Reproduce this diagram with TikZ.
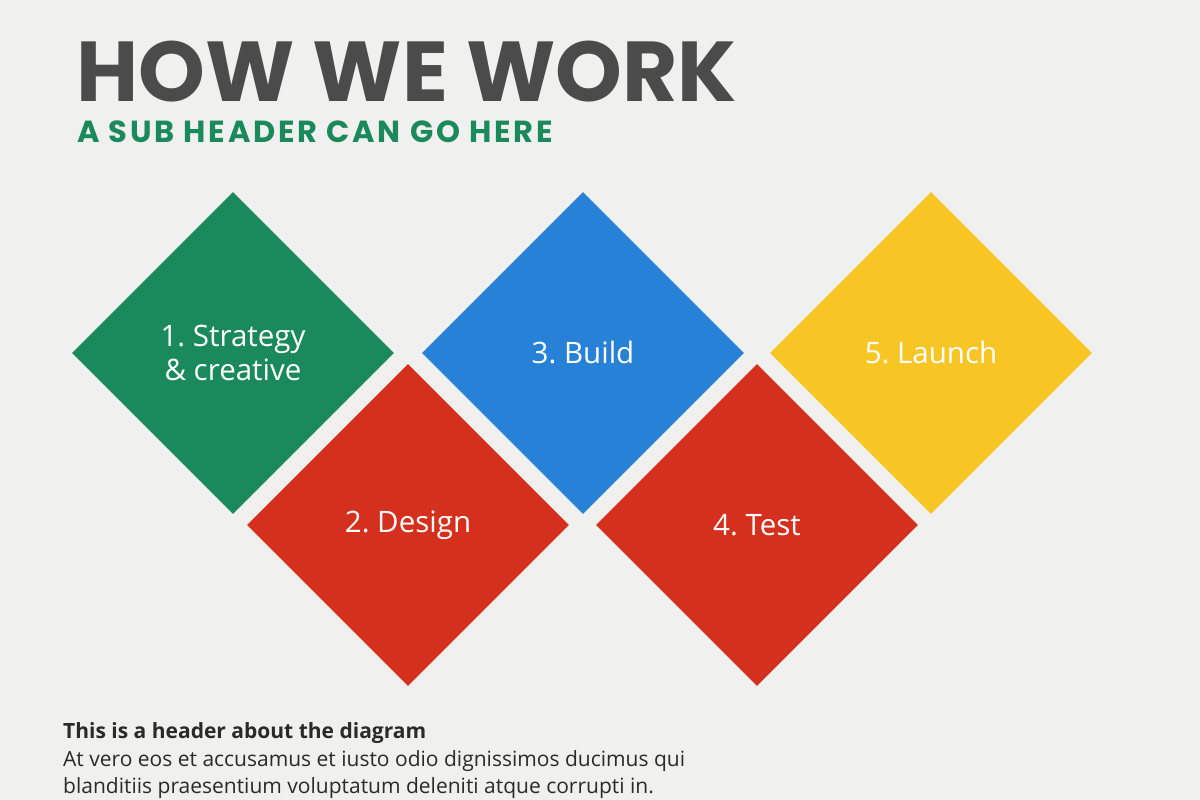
\documentclass[tikz,border=0pt]{standalone}
\usepackage{fontspec}
\setmainfont{Open Sans}
\newfontfamily\titlefont{Poppins}[UprightFont=* Bold, BoldFont=* Bold]
\newfontfamily\subfont{Poppins}[UprightFont=* Bold, BoldFont=* Bold, LetterSpace=9]
\usetikzlibrary{shapes.geometric}
\definecolor{bgc}{HTML}{F0F1EF}
\definecolor{titlegray}{HTML}{4B4B4B}
\definecolor{cgreen}{HTML}{1A895B}
\definecolor{cred}{HTML}{D52F1D}
\definecolor{cblue}{HTML}{2681D7}
\definecolor{cyellow}{HTML}{F8C624}
\definecolor{bodytext}{HTML}{2A2A2A}
\frenchspacing
\tikzset{
  stepdiamond/.style={diamond, aspect=1, inner sep=0pt, minimum width=322pt, minimum height=322pt,
    text=white, align=center, font=\fontsize{29.5}{34}\selectfont},
  textline/.style={anchor=base west, inner sep=0pt, text=bodytext},
}
\begin{document}
\frenchspacing
\begin{tikzpicture}[x=1pt,y=-1pt]
\fill[bgc] (0,0) rectangle (1200,800);
\useasboundingbox (0,0) rectangle (1200,800);
\node[anchor=base west, inner sep=0pt, text depth=0pt, text=titlegray, font=\titlefont\fontsize{85}{85}\selectfont] (title) at (76,101) {HOW WE WORK};
\node[anchor=base west, inner sep=0pt, text height=22pt, text depth=0pt, text=cgreen, font=\subfont\fontsize{30.5}{30.5}\selectfont] (sub) at (77,142) {A SUB HEADER CAN GO HERE};
\node[stepdiamond, fill=cgreen] (s1) at (233,353) {\frenchspacing 1. Strategy\\\& creative};
\node[stepdiamond, fill=cred] (s2) at (408,525) {\frenchspacing 2. Design};
\node[stepdiamond, fill=cblue] (s3) at (583,353) {\frenchspacing 3. Build};
\node[stepdiamond, fill=cred] (s4) at (757,525) {\frenchspacing 4. Test};
\node[stepdiamond, fill=cyellow] (s5) at (931,353) {\frenchspacing 5. Launch};
\node[textline, font=\bfseries\fontsize{21}{21}\selectfont] (hdr) at (63,738) {This is a header about the diagram};
\node[textline, font=\fontsize{21}{26.5}\selectfont, align=left] (body) at (63,793) {At vero eos et accusamus et iusto odio dignissimos ducimus qui\\blanditiis praesentium voluptatum deleniti atque corrupti in.};
\end{tikzpicture}
\end{document}
